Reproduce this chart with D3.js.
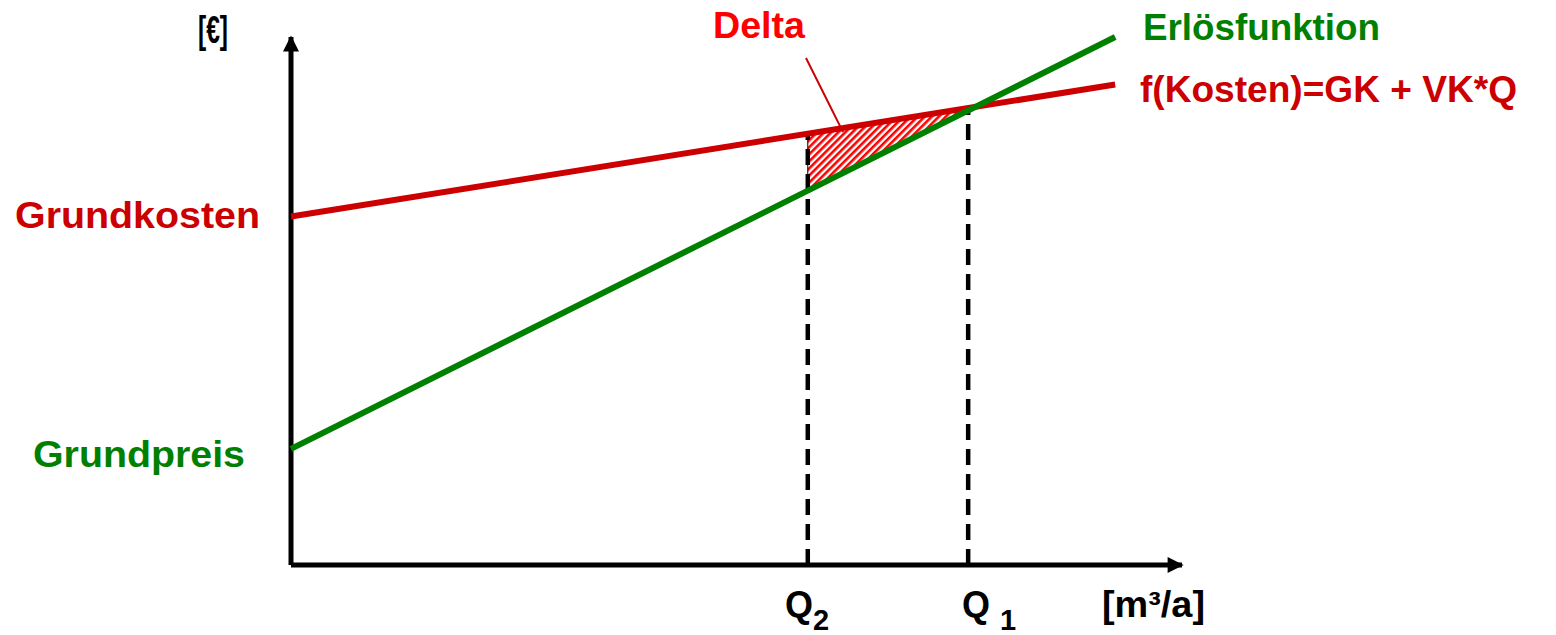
<!DOCTYPE html>
<html>
<head>
<meta charset="utf-8">
<script src="https://cdn.jsdelivr.net/npm/d3@7"></script>
<style>
  html, body { margin: 0; padding: 0; background: #fff; }
  svg { display: block; }
  text { font-family: "Liberation Sans", Arial, sans-serif; font-weight: bold; }
</style>
</head>
<body>
<svg id="chart" width="1556" height="635"></svg>
<script>
// Break-even sketch: fixed + variable costs against revenue (abstract units)
const costLine = [ { q: 0, v: 66 }, { q: 92.5, v: 91 } ];      // f(Kosten) = GK + VK*Q
const revenueLine = [ { q: 0, v: 22 }, { q: 92.5, v: 100 } ];  // Erlösfunktion
const quantityMarks = [
  { name: "Q", sub: "2", q: 58 },
  { name: "Q ", sub: "1", q: 76 }
];
const axisLabels = { y: "[€]", x: "[m³/a]" };
const lineLabels = ["Erlösfunktion", "f(Kosten)=GK + VK*Q"];
const interceptLabels = ["Grundkosten", "Grundpreis"];
const deltaLabel = "Delta";

const RED = "#cc0000", GREEN = "#008000", BRIGHT_RED = "#ff0000";

const svg = d3.select("#chart");
const x = d3.scaleLinear().domain([0, 100]).range([291, 1182]);
const y = d3.scaleLinear().domain([0, 100]).range([565, 37]);

const valueAt = (line, q) => {
  const [a, b] = line;
  return a.v + (b.v - a.v) * (q - a.q) / (b.q - a.q);
};

// hatch pattern for the Delta area
const defs = svg.append("defs");
const pat = defs.append("pattern")
  .attr("id", "hatch").attr("patternUnits", "userSpaceOnUse")
  .attr("width", 5).attr("height", 5)
  .attr("patternTransform", "rotate(45)");
pat.append("rect").attr("width", 5).attr("height", 5).attr("fill", "#fff");
pat.append("rect").attr("width", 2.6).attr("height", 5).attr("fill", BRIGHT_RED);

defs.append("marker")
  .attr("id", "arrow").attr("viewBox", "0 0 10 10")
  .attr("refX", 9).attr("refY", 5)
  .attr("markerWidth", 3.4).attr("markerHeight", 3.2)
  .attr("markerUnits", "strokeWidth")
  .attr("orient", "auto")
  .append("path").attr("d", "M0,0 L10,5 L0,10 Z").attr("fill", "#000");

// Delta triangle between Q2 and Q1
const q2 = quantityMarks[0].q, q1 = quantityMarks[1].q;
const tri = [
  [x(q2), y(valueAt(costLine, q2))],
  [x(q1), y(valueAt(costLine, q1))],
  [x(q2), y(valueAt(revenueLine, q2))]
];
svg.append("path")
  .attr("d", d3.line()(tri) + "Z")
  .attr("fill", "url(#hatch)")
  .attr("stroke", "#000").attr("stroke-width", 1);

// dashed verticals from the axis up to the cost line
quantityMarks.forEach(m => {
  svg.append("line")
    .attr("x1", x(m.q)).attr("x2", x(m.q))
    .attr("y1", y(0)).attr("y2", y(valueAt(costLine, m.q)))
    .attr("stroke", "#000").attr("stroke-width", 4.5)
    .attr("stroke-dasharray", "16,9");
});

// axes
svg.append("path")
  .attr("d", `M${x(0)},${y(0)} L${x(0)},${y(100)}`)
  .attr("stroke", "#000").attr("stroke-width", 5).attr("fill", "none")
  .attr("marker-end", "url(#arrow)");
svg.append("path")
  .attr("d", `M${x(0)},${y(0)} L${x(100)},${y(0)}`)
  .attr("stroke", "#000").attr("stroke-width", 5).attr("fill", "none")
  .attr("marker-end", "url(#arrow)");

// cost and revenue lines
const lineGen = d3.line().x(d => x(d.q)).y(d => y(d.v));
svg.append("path").datum(costLine).attr("d", lineGen)
  .attr("stroke", RED).attr("stroke-width", 6).attr("fill", "none");
svg.append("path").datum(revenueLine).attr("d", lineGen)
  .attr("stroke", GREEN).attr("stroke-width", 6).attr("fill", "none");

// Delta leader line
const midQ = q2 + (q1 - q2) * 0.22;
svg.append("line")
  .attr("x1", 806).attr("y1", 58)
  .attr("x2", x(midQ)).attr("y2", y(valueAt(costLine, midQ)) + 4)
  .attr("stroke", RED).attr("stroke-width", 2);

// labels
const label = (txt, px, py, color, size, len) => {
  const t = svg.append("text")
    .attr("x", px).attr("y", py)
    .attr("fill", color).attr("font-size", size)
    .text(txt);
  if (len) t.attr("textLength", len).attr("lengthAdjust", "spacingAndGlyphs");
  return t;
};

label(deltaLabel, 713, 38, BRIGHT_RED, 36, 92);
label(lineLabels[0], 1143, 40, GREEN, 36, 237);
label(lineLabels[1], 1140, 102, RED, 36, 377);
label(interceptLabels[0], 15, 228, RED, 36, 245);
label(interceptLabels[1], 33, 467, GREEN, 36, 212);
label(axisLabels.y, 198, 43, "#000", 38, 30);
label(axisLabels.x, 1102, 617, "#000", 36, 103);

// quantity labels with subscripts
const qPos = [785, 962];
quantityMarks.forEach((m, i) => {
  const t = svg.append("text")
    .attr("x", qPos[i]).attr("y", 617)
    .attr("fill", "#000").attr("font-size", 36)
    .attr("xml:space", "preserve");
  t.append("tspan").text(m.name);
  t.append("tspan").attr("dy", 13).attr("font-size", 29).text(m.sub);
});
</script>
</body>
</html>
